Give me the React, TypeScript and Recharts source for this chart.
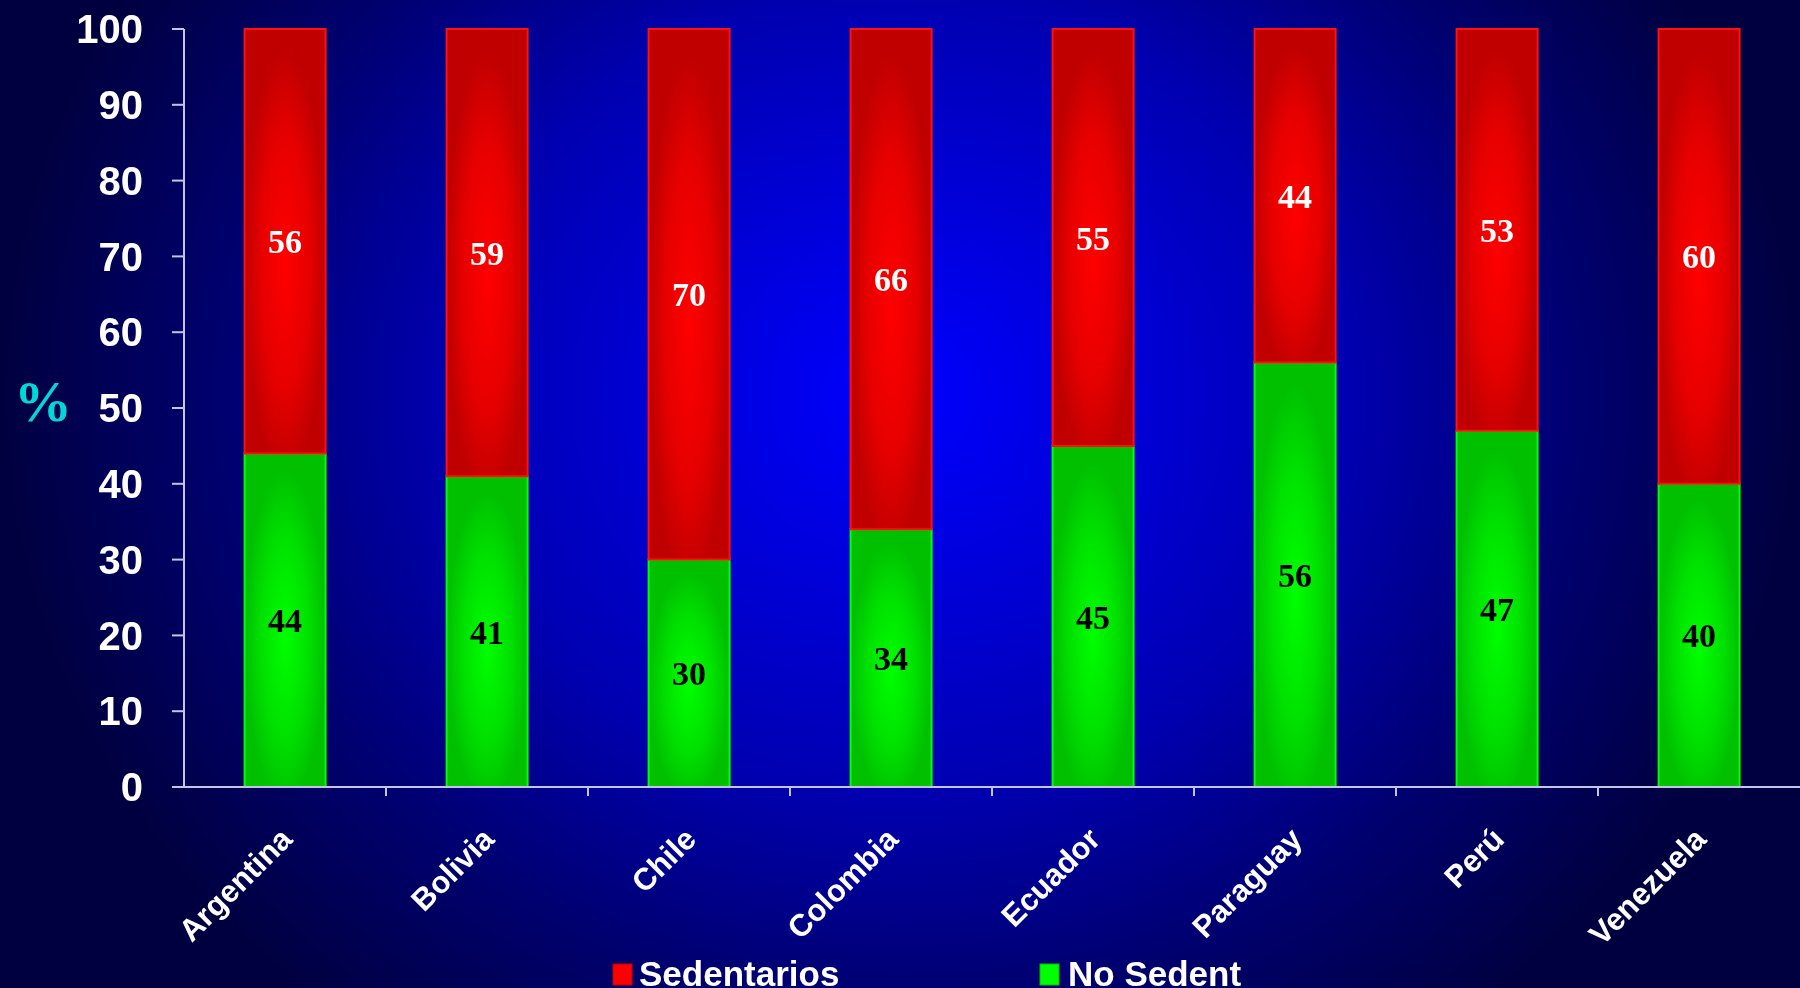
import React from 'react';
import { BarChart, Bar, XAxis, YAxis, LabelList, Legend } from 'recharts';

const countries = ['Argentina', 'Bolivia', 'Chile', 'Colombia', 'Ecuador', 'Paraguay', 'Perú', 'Venezuela'];
const noSedent = [44, 41, 30, 34, 45, 56, 47, 40];
const sedentarios = [56, 59, 70, 66, 55, 44, 53, 60];
const yTicks = [0, 10, 20, 30, 40, 50, 60, 70, 80, 90, 100];

const data = countries.map((c, i) => ({ country: c, noSedent: noSedent[i], sedentarios: sedentarios[i] }));

const W = 1800;
const H = 988;
const Y_AXIS_W = 184;
const BAND = (W - Y_AXIS_W) / countries.length;
const AXIS_COLOR = '#c4c4e6';
const SANS = '"Liberation Sans", Arial, Helvetica, sans-serif';
const SERIF = '"Liberation Serif", "Times New Roman", serif';

const XTick = (props: any) => {
  const { x, y, payload, index } = props;
  const ax = x + 9;
  const ay = y + 54;
  return (
    <g>
      {index < countries.length - 1 && (
        <line x1={x + BAND / 2} x2={x + BAND / 2} y1={y} y2={y + 9} stroke={AXIS_COLOR} strokeWidth={2} />
      )}
      <text
        x={ax}
        y={ay}
        textAnchor="end"
        fill="#ffffff"
        fontFamily={SANS}
        fontWeight="bold"
        fontSize={31}
        transform={`rotate(-45, ${ax}, ${ay})`}
      >
        {payload.value}
      </text>
    </g>
  );
};

const LegendContent = () => (
  <svg width={W} height={40} style={{ display: 'block' }}>
    <rect x={613} y={16} width={19} height={21} fill="#ff0000" stroke="#c00000" strokeWidth={1} />
    <text x={639} y={38} fill="#ffffff" fontFamily={SANS} fontWeight="bold" fontSize={35}>
      Sedentarios
    </text>
    <rect x={1040} y={16} width={19} height={21} fill="#00ff00" stroke="#00c000" strokeWidth={1} />
    <text x={1068} y={38} fill="#ffffff" fontFamily={SANS} fontWeight="bold" fontSize={35}>
      No Sedent
    </text>
  </svg>
);

const PercentLabel = (props: any) => {
  const { viewBox } = props;
  const cy = viewBox.y + viewBox.height / 2;
  return (
    <text x={14} y={cy + 13} fill="#00d8d8" fontFamily={SERIF} fontWeight="bold" fontSize={58}>
      %
    </text>
  );
};

export default function App() {
  return (
    <div
      style={{
        position: 'fixed',
        left: 0,
        top: 0,
        width: W,
        height: H,
        background:
          'radial-gradient(ellipse 900px 800px at 50% 40%, #0000ff 0%, #0000d8 25%, #0000b0 50%, #000070 75%, #000040 100%)',
        overflow: 'hidden',
      }}
    >
      <BarChart
        width={W}
        height={H}
        data={data}
        margin={{ top: 29, right: 0, bottom: 0, left: 0 }}
        barCategoryGap="30%"
      >
        <defs>
          <radialGradient id="redGrad" cx="0.5" cy="0.55" r="0.5">
            <stop offset="0%" stopColor="#ff0000" />
            <stop offset="60%" stopColor="#e60000" />
            <stop offset="100%" stopColor="#c00000" />
          </radialGradient>
          <radialGradient id="greenGrad" cx="0.5" cy="0.55" r="0.5">
            <stop offset="0%" stopColor="#00ff00" />
            <stop offset="60%" stopColor="#00e000" />
            <stop offset="100%" stopColor="#00c000" />
          </radialGradient>
        </defs>
        <XAxis
          dataKey="country"
          type="category"
          interval={0}
          height={161}
          tickSize={0}
          tickMargin={0}
          tickLine={false}
          axisLine={{ stroke: AXIS_COLOR, strokeWidth: 2 }}
          tick={<XTick />}
        />
        <YAxis
          type="number"
          domain={[0, 100]}
          ticks={yTicks}
          interval={0}
          width={Y_AXIS_W}
          tickSize={12}
          tickMargin={29}
          axisLine={{ stroke: AXIS_COLOR, strokeWidth: 2 }}
          tickLine={{ stroke: AXIS_COLOR, strokeWidth: 2 }}
          tick={{ fill: '#ffffff', fontFamily: SANS, fontWeight: 'bold', fontSize: 40 }}
          label={<PercentLabel />}
        />
        <Legend verticalAlign="bottom" content={<LegendContent />} wrapperStyle={{ left: 0, width: W, height: 40 }} />
        <Bar
          dataKey="noSedent"
          name="No Sedent"
          stackId="a"
          fill="url(#greenGrad)"
          stroke="#00ff00"
          strokeWidth={2}
          isAnimationActive={false}
        >
          <LabelList
            dataKey="noSedent"
            position="center"
            fill="#000000"
            fontFamily={SERIF}
            fontWeight="bold"
            fontSize={34}
          />
        </Bar>
        <Bar
          dataKey="sedentarios"
          name="Sedentarios"
          stackId="a"
          fill="url(#redGrad)"
          stroke="#ff1010"
          strokeWidth={2}
          isAnimationActive={false}
        >
          <LabelList
            dataKey="sedentarios"
            position="center"
            fill="#ffffff"
            fontFamily={SERIF}
            fontWeight="bold"
            fontSize={34}
          />
        </Bar>
      </BarChart>
    </div>
  );
}
